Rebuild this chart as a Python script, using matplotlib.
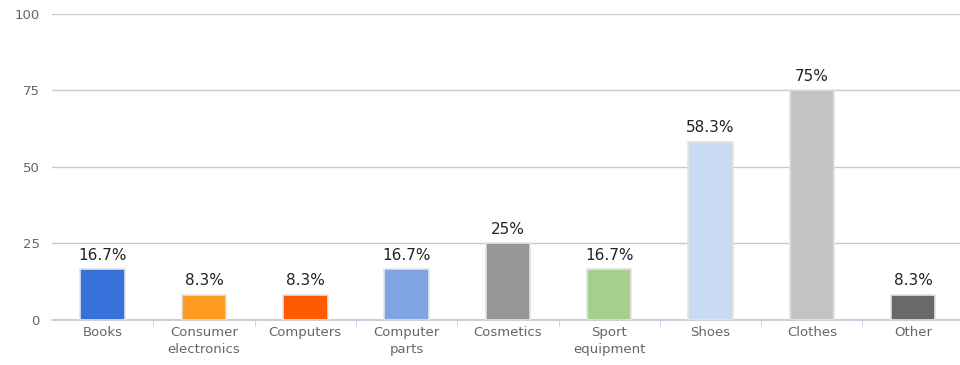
import numpy as np
import matplotlib.pyplot as plt

categories = ['Books', 'Consumer\nelectronics', 'Computers', 'Computer\nparts',
              'Cosmetics', 'Sport\nequipment', 'Shoes', 'Clothes', 'Other']
values = [16.7, 8.3, 8.3, 16.7, 25, 16.7, 58.3, 75, 8.3]
labels = ['16.7%', '8.3%', '8.3%', '16.7%', '25%', '16.7%', '58.3%', '75%', '8.3%']
colors = ['#3670d8', '#ff9a20', '#ff5a00', '#7ea4e4', '#969696',
          '#a5cf8c', '#c9daf3', '#c3c3c5', '#696969']
yticks = [0, 25, 50, 75, 100]

fig = plt.figure(figsize=(9.6, 3.65), dpi=100)
ax = fig.add_axes([0.0542, 0.1233, 0.9497, 0.8384])

x = np.arange(len(categories))
bars = ax.bar(x, values, width=0.44, color=colors, edgecolor='#e4e4e4',
              linewidth=1.2, zorder=3)

for b, lab in zip(bars, labels):
    ax.annotate(lab, (b.get_x() + b.get_width() / 2, b.get_height()),
                xytext=(0, 4.5), textcoords='offset points',
                ha='center', va='bottom', fontsize=11, color='#222222')

ax.set_xlim(-0.5, len(categories) - 0.5)
ax.set_ylim(0, 100)
ax.set_yticks(yticks)
ax.yaxis.grid(True, color='#c8c8c8', linewidth=1, zorder=0)
ax.set_axisbelow(True)

ax.set_xticks(x)
ax.set_xticklabels(categories, fontsize=9.5, color='#666666', linespacing=1.45)
ax.set_xticks(np.arange(0.5, len(categories) - 0.5), minor=True)
ax.tick_params(axis='x', which='major', length=0, pad=4)
ax.tick_params(axis='x', which='minor', length=4, color='#c0c8d8')
ax.tick_params(axis='y', length=0, labelsize=9.5, labelcolor='#666666', pad=9)

for s in ['top', 'right', 'left']:
    ax.spines[s].set_visible(False)
ax.spines['bottom'].set_color('#c0c8d8')
ax.spines['bottom'].set_linewidth(1.2)

fig.savefig('out.png', dpi=100)
